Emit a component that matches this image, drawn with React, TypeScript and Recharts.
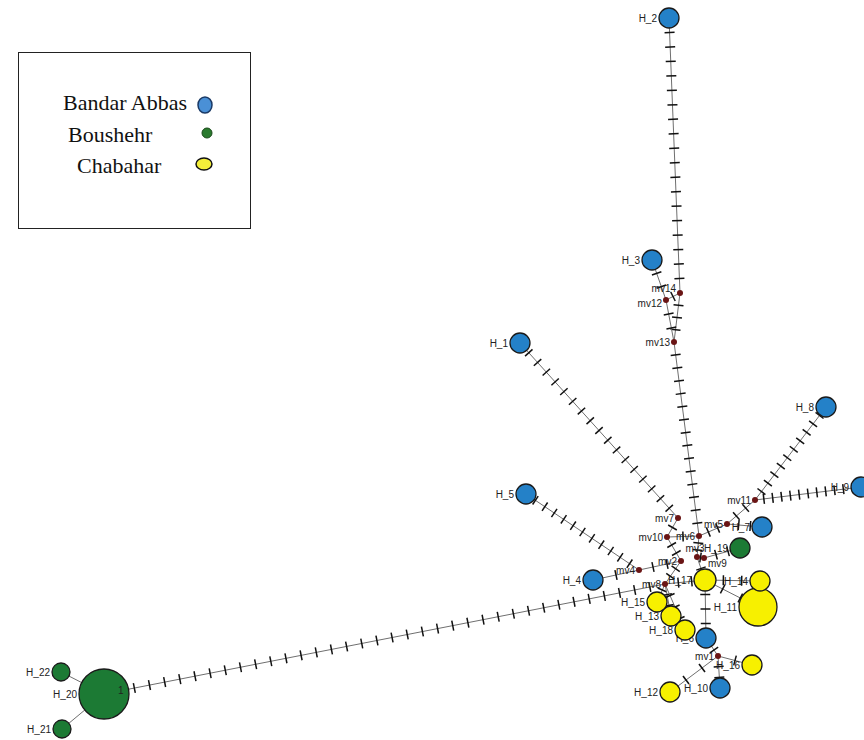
import React from 'react';
import { ScatterChart, Scatter, XAxis, YAxis } from 'recharts';

// haplotypes: name, position in network layout, circle radius, population
const hapNames = ['H_1', 'H_2', 'H_3', 'H_4', 'H_5', 'H_6', 'H_7', 'H_8', 'H_9', 'H_10', 'H_11', 'H_12', 'H_13', 'H_14', 'H_15', 'H_16', 'H_17', 'H_18', 'H_19', 'H_20', 'H_21', 'H_22'];
const hapX = [520, 669, 652, 593, 526, 706, 762, 826, 861, 720, 758, 670, 671, 760, 657, 752, 705, 685, 740, 104, 62, 61];
const hapY = [343, 18, 260, 580, 494, 638, 527, 407, 487, 688, 607, 692, 616, 581, 602, 665, 580, 630, 548, 694, 729, 672];
const hapRadius = [10, 10, 10, 10, 10, 10, 10, 10, 10, 10, 19, 10, 10, 10, 10, 10, 11, 10, 10, 25, 9, 9];
const hapPop = ['BA', 'BA', 'BA', 'BA', 'BA', 'BA', 'BA', 'BA', 'BA', 'BA', 'CH', 'CH', 'CH', 'CH', 'CH', 'CH', 'CH', 'CH', 'BO', 'BO', 'BO', 'BO'];

// median vectors
const mvNames = ['mv1', 'mv2', 'mv3', 'mv4', 'mv5', 'mv6', 'mv7', 'mv8', 'mv9', 'mv10', 'mv11', 'mv12', 'mv13', 'mv14'];
const mvX = [718, 681, 697, 639, 727, 699, 678, 665, 704, 667, 755, 666, 674, 680];
const mvY = [656, 561, 557, 570, 524, 536, 518, 584, 558, 537, 500, 300, 342, 293];

// links and number of mutation steps
const edgeFrom = ['H_2', 'mv14', 'mv14', 'H_3', 'mv12', 'mv13', 'H_1', 'H_5', 'H_8', 'H_9', 'mv11', 'mv5', 'mv5', 'H_19', 'H_20', 'H_22', 'H_21', 'H_4', 'mv4', 'mv7', 'mv10', 'mv10', 'mv6', 'mv2', 'mv8', 'mv8', 'mv8', 'mv3', 'H_17', 'H_17', 'H_17', 'H_6', 'mv1', 'mv1', 'mv1', 'mv8', 'mv9'];
const edgeTo = ['mv14', 'mv13', 'mv12', 'mv12', 'mv13', 'mv6', 'mv7', 'mv4', 'mv11', 'mv11', 'mv5', 'H_7', 'mv6', 'mv9', 'mv8', 'H_20', 'H_20', 'mv4', 'mv2', 'mv10', 'mv6', 'mv2', 'mv3', 'mv8', 'H_17', 'H_15', 'H_13', 'H_17', 'H_14', 'H_11', 'H_6', 'mv1', 'H_16', 'H_10', 'H_12', 'H_18', 'mv3'];
const edgeSteps = [18, 3, 1, 2, 2, 14, 17, 11, 10, 11, 2, 2, 2, 2, 36, 0, 0, 1, 2, 1, 1, 2, 2, 2, 2, 2, 2, 1, 2, 2, 3, 2, 1, 2, 2, 3, 1];

const popColor: Record<string, string> = { BA: '#2481c8', BO: '#1c7a34', CH: '#f7f000' };

// where a median-vector label sits when the default (left of the dot) would collide
const mvLabelPlace: Record<string, { dx: number; dy: number; anchor: string }> = {
  mv14: { dx: -4, dy: -1, anchor: 'end' },
  mv12: { dx: -4, dy: 7, anchor: 'end' },
  mv3: { dx: -2, dy: -5, anchor: 'middle' },
  mv9: { dx: 4, dy: 9, anchor: 'start' },
};

const haplotypes = hapNames.map((name, i) => ({ name, x: hapX[i], y: hapY[i], r: hapRadius[i], pop: hapPop[i] }));
const medians = mvNames.map((name, i) => ({ name, x: mvX[i], y: mvY[i] }));
const allNodes: Record<string, { x: number; y: number }> = {};
haplotypes.forEach((d) => (allNodes[d.name] = d));
medians.forEach((d) => (allNodes[d.name] = d));
const edges = edgeFrom.map((from, i) => ({ from, to: edgeTo[i], steps: edgeSteps[i] }));

const labelFont = 'Liberation Sans, Arial, sans-serif';

const edgeLine = (steps: number) => (props: any) => {
  const pts = props.points || [];
  if (pts.length < 2) return <g />;
  const [p, q] = pts;
  const dx = q.x - p.x;
  const dy = q.y - p.y;
  const len = Math.sqrt(dx * dx + dy * dy) || 1;
  const nx = -dy / len;
  const ny = dx / len;
  const ticks = [];
  for (let i = 1; i <= steps; i++) {
    const t = i / (steps + 1);
    const cx = p.x + dx * t;
    const cy = p.y + dy * t;
    ticks.push(
      <line key={i} x1={cx - nx * 5} y1={cy - ny * 5} x2={cx + nx * 5} y2={cy + ny * 5} stroke="#111" strokeWidth={1.5} />
    );
  }
  return (
    <g>
      <line x1={p.x} y1={p.y} x2={q.x} y2={q.y} stroke="#6f6f6f" strokeWidth={1} />
      {ticks}
    </g>
  );
};

const HapShape = (props: any) => {
  const { cx, cy, payload } = props;
  const big = payload.name === 'H_20';
  return (
    <g>
      <circle cx={cx} cy={cy} r={payload.r} fill={popColor[payload.pop]} stroke="#1a1a1a" strokeWidth={1.3} />
      <text x={cx - payload.r - 2} y={cy + 3.5} textAnchor="end" fontSize={10} fontFamily={labelFont} fill="#222">
        {payload.name}
      </text>
      {big && (
        <text x={cx + 14} y={cy} fontSize={10} fontFamily={labelFont} fill="#222">
          1
        </text>
      )}
    </g>
  );
};

const MvShape = (props: any) => {
  const { cx, cy, payload } = props;
  const place = mvLabelPlace[payload.name] || { dx: -4, dy: 3.5, anchor: 'end' };
  return (
    <g>
      <circle cx={cx} cy={cy} r={3} fill="#6a1515" />
      <text x={cx + place.dx} y={cy + place.dy} textAnchor={place.anchor} fontSize={10} fontFamily={labelFont} fill="#222">
        {payload.name}
      </text>
    </g>
  );
};

const Empty = () => <g />;

const legendItems = [
  { label: 'Bandar Abbas', color: '#4a90d6', pad: 44 },
  { label: 'Boushehr', color: '#2a7a2e', pad: 49 },
  { label: 'Chabahar', color: '#f4ef3a', pad: 58 },
];

const App: React.FC = () => {
  return (
    <div style={{ position: 'absolute', left: 0, top: 0, width: 864, height: 740, background: '#fff' }}>
      <ScatterChart width={864} height={740} margin={{ top: 0, right: 0, bottom: 0, left: 0 }}>
        <XAxis type="number" dataKey="x" domain={[0, 864]} hide />
        <YAxis type="number" dataKey="y" domain={[0, 740]} reversed hide />
        {edges.map((e, i) => (
          <Scatter
            key={`e${i}`}
            data={[allNodes[e.from], allNodes[e.to]]}
            line={edgeLine(e.steps)}
            shape={Empty}
            isAnimationActive={false}
          />
        ))}
        <Scatter data={medians} shape={MvShape} isAnimationActive={false} />
        <Scatter data={haplotypes} shape={HapShape} isAnimationActive={false} />
      </ScatterChart>
      <div
        style={{
          position: 'absolute',
          left: 18,
          top: 52,
          width: 233,
          height: 177,
          border: '1px solid #222',
          boxSizing: 'border-box',
          fontFamily: 'Liberation Serif, Times New Roman, serif',
          fontSize: 22,
          color: '#111',
        }}
      >
        {legendItems.map((it, i) => (
          <div key={it.label} style={{ position: 'absolute', left: it.pad, top: 37 + i * 31.5, whiteSpace: 'nowrap', lineHeight: 'normal' }}>
            {it.label}
          </div>
        ))}
        <svg style={{ position: 'absolute', left: 0, top: 0 }} width={231} height={175}>
          <ellipse cx={186} cy={52} rx={7} ry={8} fill={legendItems[0].color} stroke="#1b3a66" strokeWidth={1.5} />
          <ellipse cx={188} cy={80} rx={5} ry={5} fill={legendItems[1].color} stroke="#1a4a1a" strokeWidth={1} />
          <ellipse cx={185} cy={111} rx={8} ry={6} fill={legendItems[2].color} stroke="#111" strokeWidth={1.5} />
        </svg>
      </div>
    </div>
  );
};

export default App;
